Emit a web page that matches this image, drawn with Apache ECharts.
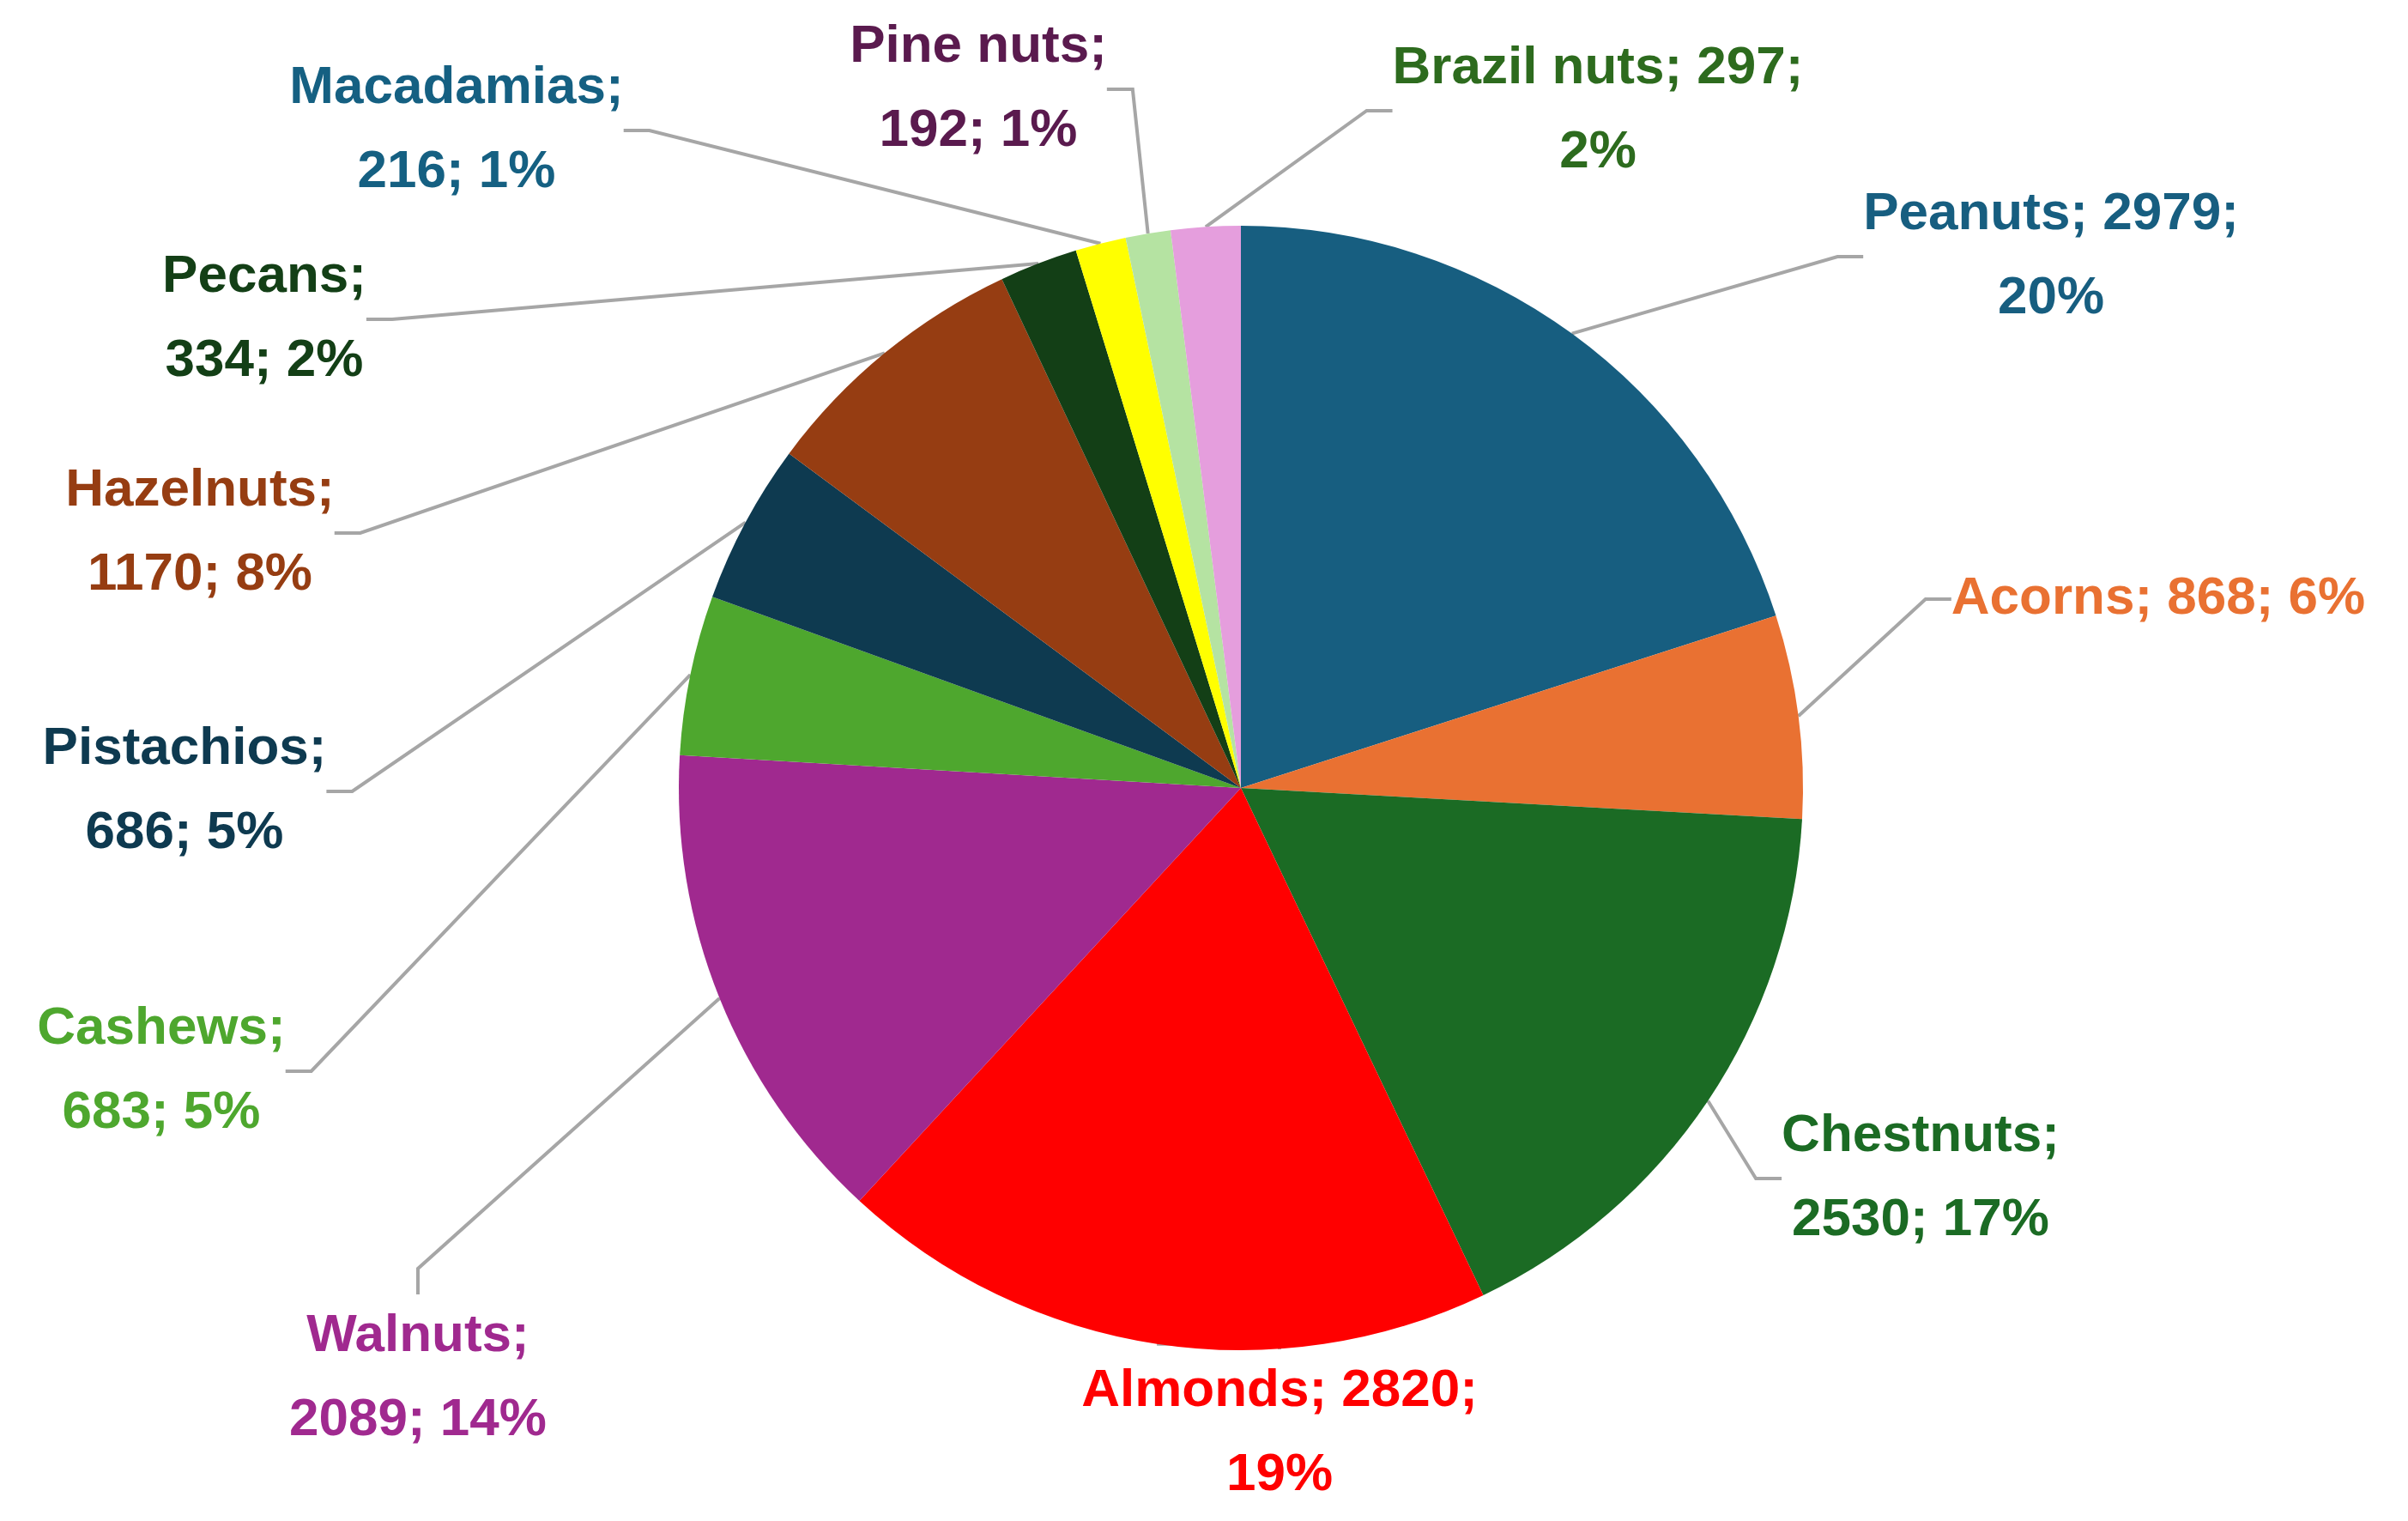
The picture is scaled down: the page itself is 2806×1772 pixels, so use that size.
<!DOCTYPE html>
<html>
<head>
<meta charset="utf-8">
<script src="https://cdn.jsdelivr.net/npm/echarts@6/dist/echarts.min.js"></script>
<style>html,body{margin:0;padding:0;background:#fff}#chart{width:2806px;height:1772px}</style>
</head>
<body>
<div id="chart"></div>
<script>
var names = ['Peanuts','Acorns','Chestnuts','Almonds','Walnuts','Cashews','Pistachios','Hazelnuts','Pecans','Macadamias','Pine nuts','Brazil nuts'];
var values = [2979, 868, 2530, 2820, 2089, 683, 686, 1170, 334, 216, 192, 297];
var sliceColors = ['#175e80','#e97132','#1b6b24','#ff0000','#a0298f','#4ea72e','#0e3a50','#963d12','#133f16','#ffff00','#b5e3a2','#e59edd'];
var labelColors = ['#175e80','#e97132','#1b6b24','#ff0000','#a0298f','#4ea72e','#0e3a50','#963d12','#133f16','#156082','#5a1a4e','#2d6b1e'];
// label text: where the line breaks
var labelText = [
  'Peanuts; 2979;\n20%','Acorns; 868; 6%','Chestnuts;\n2530; 17%','Almonds; 2820;\n19%',
  'Walnuts;\n2089; 14%','Cashews;\n683; 5%','Pistachios;\n686; 5%','Hazelnuts;\n1170; 8%',
  'Pecans;\n334; 2%','Macadamias;\n216; 1%','Pine nuts;\n192; 1%','Brazil nuts; 297;\n2%'
];
// label centres (layout)
var labelPos = [[2390,299],[2515,698],[2238,1373],[1491,1670],[487,1606],[188,1248],[215,922],[233,621],[308,372],[532,152],[1140,104],[1862,129]];

var chart = echarts.init(document.getElementById('chart'));
var data = names.map(function(n, i){
  return {
    name: n, value: values[i],
    itemStyle: {color: sliceColors[i]},
    label: {color: labelColors[i], formatter: labelText[i]}
  };
});
chart.setOption({
  animation: false,
  series: [{
    type: 'pie',
    center: [1446, 918],
    radius: 655,
    startAngle: 90,
    clockwise: true,
    data: data,
    label: {
      show: true,
      position: 'outside',
      fontFamily: 'Liberation Sans',
      fontWeight: 'bold',
      fontSize: 62,
      lineHeight: 98,
      align: 'center'
    },
    labelLine: {show: true, length: 30, length2: 30, lineStyle: {color: '#a6a6a6', width: 4}},
    labelLayout: function(p){
      var pos = labelPos[p.dataIndex];
      return {x: pos[0], y: pos[1], align: 'center', verticalAlign: 'middle'};
    }
  }]
});
</script>
</body>
</html>
